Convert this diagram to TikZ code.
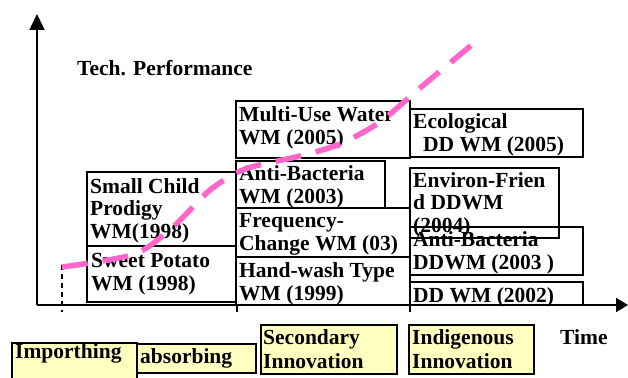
\documentclass[tikz,border=0pt]{standalone}
\usepackage{fontspec}
\setmainfont{Liberation Serif}
\usetikzlibrary{arrows.meta}
\definecolor{pinkline}{RGB}{255,102,204}
\definecolor{paleyellow}{RGB}{255,255,192}
\begin{document}
\begin{tikzpicture}[x=1pt,y=-1pt,
  box/.style={draw=black,line width=1.6pt},
  ybox/.style={draw=black,line width=1.6pt,fill=paleyellow},
  lbl/.style={anchor=base west,align=left,inner sep=0pt,
    font=\bfseries\fontsize{21.5}{22.5}\selectfont},
  blbl/.style={lbl,font=\bfseries\fontsize{21.5}{24}\selectfont},
  axisline/.style={line width=1.6pt,-{Triangle[length=16pt,width=15pt]}},
  tick/.style={line width=1.4pt}]
\useasboundingbox (0,0) rectangle (628,377);
% axes
\coordinate (O) at (37,305);
\coordinate (ytip) at (37,14);
\coordinate (xtip) at (628,305);
\draw[axisline] (O) -- (ytip);
\draw[line width=1.6pt,-{Triangle[length=12pt,width=14pt]}] (O) -- (xtip);
\draw[tick,dash pattern=on 5pt off 4pt] (62,265) -- (62,312);
\draw[tick] (237,305) -- (237,312);
\draw[tick] (410,305) -- (410,312);
% boxes
\draw[box] (87,172) rectangle (236,246);
\draw[box] (87,246) rectangle (236,302);
\draw[box] (236,101) rectangle (410,158);
\draw[box] (236,161) rectangle (385,208);
\draw[box] (236,208) rectangle (410,257);
\draw[box] (236,257) rectangle (410,305);
\draw[box] (410,109) rectangle (583,157);
\draw[box] (410,168) rectangle (559,238);
\draw[box] (410,227) rectangle (583,275);
\draw[box] (410,282) rectangle (583,305);
% labels (anchor = baseline of the last line)
\node[lbl] (perf) at (77,76) {Tech. Performance};
\node[lbl] (child) at (90,238) {Small Child\\Prodigy\\WM(1998)};
\node[lbl] (potato) at (91,290) {Sweet Potato\\WM (1998)};
\node[lbl] (multi) at (239,144) {Multi-Use Water\\WM (2005)};
\node[lbl] (antiwm) at (239,203) {Anti-Bacteria\\WM (2003)};
\node[lbl] (freq) at (239,250) {Frequency-\\Change WM (03)};
\node[lbl] (hand) at (239,300) {Hand-wash Type\\WM (1999)};
\node[lbl] (eco) at (413,151) {Ecological\\\hspace*{10pt}DD WM (2005)};
\node[lbl] (env) at (413,232) {Environ-Frien\\d DDWM\\(2004)};
\node[lbl] (antidd) at (413,269) {Anti-Bacteria\\DDWM (2003 )};
\node[lbl] (dd) at (413,302) {DD WM (2002)};
% stage boxes
\draw[ybox] (137,344) rectangle (256,373);
\draw[ybox] (12,343) rectangle (137,390);
\draw[ybox] (261,325) rectangle (397,374);
\draw[ybox] (409,325) rectangle (534,374);
\node[lbl] (imp) at (15,358) {Importhing};
\node[lbl] (abs) at (140,363) {absorbing};
\node[blbl] (sec) at (263,368) {Secondary\\Innovation};
\node[blbl] (ind) at (412,368) {Indigenous\\Innovation};
\node[lbl] (time) at (560,344) {Time};
% trajectory
\draw[pinkline,line width=5.5pt,dash pattern=on 26pt off 15pt]
  plot[smooth,tension=0.45] coordinates {(62,267) (135,254) (175,225) (210,190)
  (245,169) (300,156) (340,144) (380,122) (420,88) (480,38)};
\end{tikzpicture}
\end{document}
